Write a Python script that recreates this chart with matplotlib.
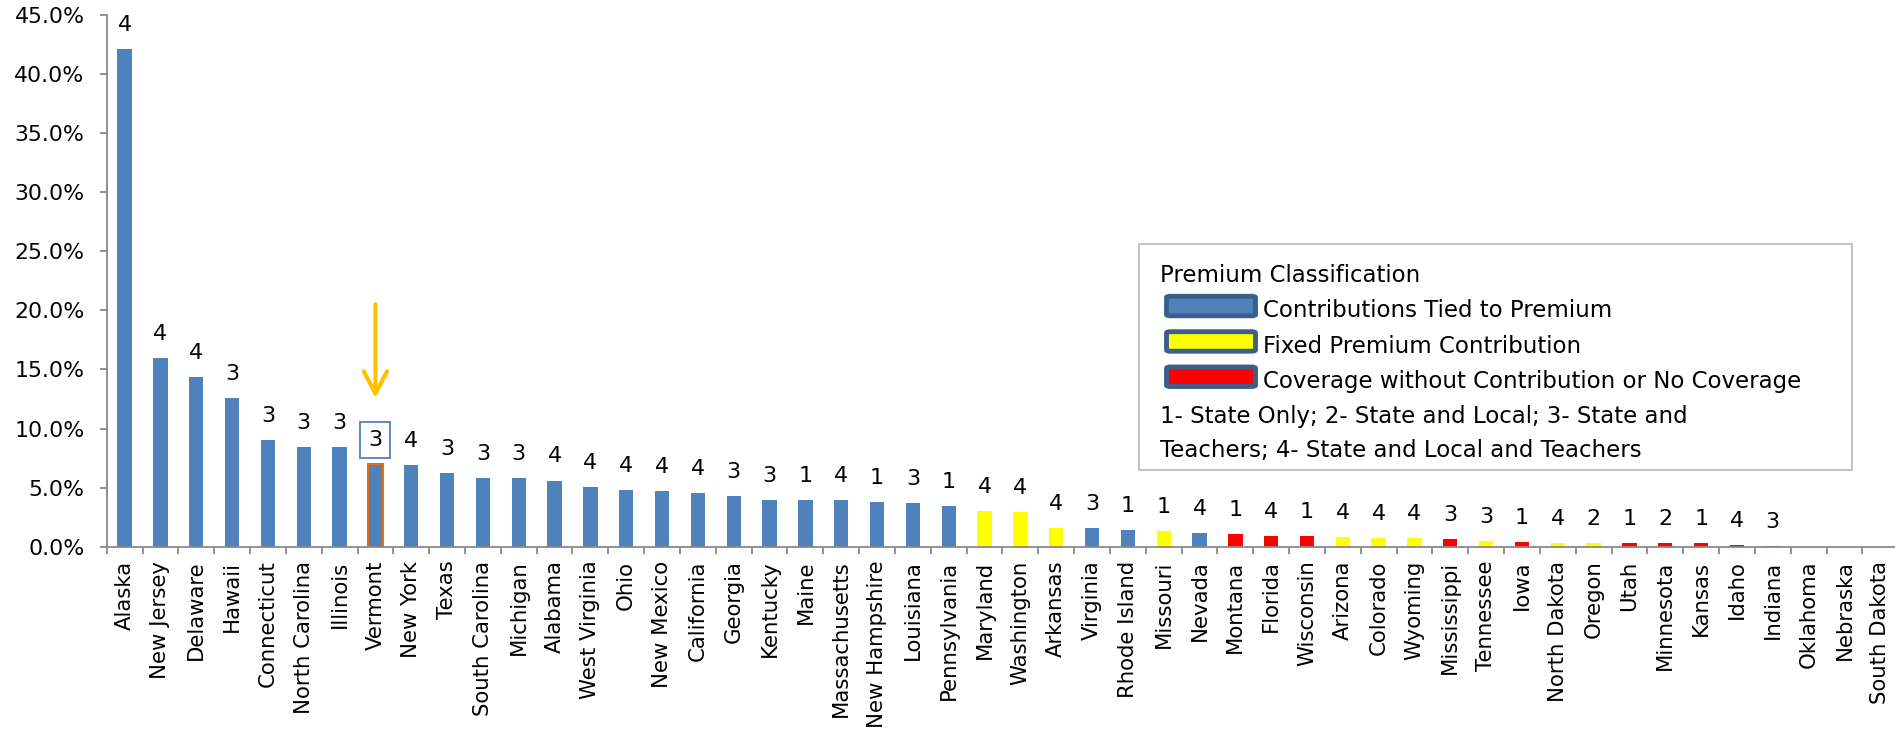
import numpy as np
import matplotlib
matplotlib.use("Agg")
import matplotlib.pyplot as plt
from matplotlib.patches import Rectangle, FancyBboxPatch
import matplotlib.transforms as mtransforms

# share of premium (%) per state, sorted high to low
states = ["Alaska", "New Jersey", "Delaware", "Hawaii", "Connecticut", "North Carolina",
          "Illinois", "Vermont", "New York", "Texas", "South Carolina", "Michigan", "Alabama",
          "West Virginia", "Ohio", "New Mexico", "California", "Georgia", "Kentucky", "Maine",
          "Massachusetts", "New Hampshire", "Louisiana", "Pennsylvania", "Maryland",
          "Washington", "Arkansas", "Virginia", "Rhode Island", "Missouri", "Nevada",
          "Montana", "Florida", "Wisconsin", "Arizona", "Colorado", "Wyoming", "Mississippi",
          "Tennessee", "Iowa", "North Dakota", "Oregon", "Utah", "Minnesota", "Kansas",
          "Idaho", "Indiana", "Oklahoma", "Nebraska", "South Dakota"]
share = [42.1, 15.95, 14.35, 12.6, 9.05, 8.4, 8.4, 7.0, 6.9, 6.2, 5.85, 5.85, 5.6,
         5.05, 4.8, 4.72, 4.55, 4.3, 3.97, 3.92, 3.92, 3.8, 3.69, 3.47, 3.05,
         2.96, 1.62, 1.59, 1.45, 1.36, 1.16, 1.11, 0.94, 0.94, 0.85, 0.77, 0.70, 0.68,
         0.51, 0.42, 0.34, 0.34, 0.34, 0.34, 0.34, 0.17, 0.08, 0.0, 0.0, 0.0]
# 1 state only, 2 state+local, 3 state+teachers, 4 state+local+teachers
coverage = [4, 4, 4, 3, 3, 3, 3, 3, 4, 3, 3, 3, 4, 4, 4, 4, 4, 3, 3, 1, 4, 1, 3, 1, 4,
            4, 4, 3, 1, 1, 4, 1, 4, 1, 4, 4, 4, 3, 3, 1, 4, 2, 1, 2, 1, 4, 3,
            None, None, None]
classification = ["tied"] * 24 + ["fixed", "fixed", "fixed", "tied", "tied", "fixed", "tied",
                  "none", "none", "none", "fixed", "fixed", "fixed", "none", "fixed", "none",
                  "fixed", "fixed", "none", "none", "none", "none", "none", "none", "none", "none"]
highlight = "Vermont"

class_colors = {"tied": "#4F81BD", "fixed": "#FFFF00", "none": "#FF0000"}
class_names = {"tied": "Contributions Tied to Premium",
               "fixed": "Fixed Premium Contribution",
               "none": "Coverage without Contribution or No Coverage"}
legend_title = "Premium Classification"
legend_note = ["1- State Only; 2- State and Local; 3- State and",
               "Teachers; 4- State and Local and Teachers"]

W, H = 1895, 732
AXIS_GRAY = "#898989"
plt.rcParams["font.family"] = ["DejaVu Sans"]

fig = plt.figure(figsize=(W / 100, H / 100), dpi=100)
ax = fig.add_axes([106.7 / W, (H - 546.7) / H, 1791.5 / W, 531.7 / H])


def fx(x):
    return x / W


def fy(y):
    return 1 - y / H


x = np.arange(len(states))
bars = ax.bar(x, share, width=0.4, color=[class_colors[c] for c in classification],
              edgecolor="none", zorder=2)
hi = states.index(highlight)
bars[hi].set_edgecolor("#EE6A10")
bars[hi].set_linewidth(1.5)

ax.set_xlim(-0.5, len(states) - 0.5)
ax.set_ylim(0, 45)
ax.set_yticks(np.arange(0, 46, 5))
ax.yaxis.set_major_formatter(matplotlib.ticker.FuncFormatter(lambda v, p: f"{v:.1f}%"))

ax.set_xticks(x)
ax.set_xticklabels(states, rotation=90, fontsize=15.3)
ax.set_xticks(np.arange(-0.5, len(states)), minor=True)
ax.tick_params(axis="x", which="major", length=0, pad=10)
ax.tick_params(axis="x", which="minor", length=5, width=1.3, color=AXIS_GRAY, direction="out")
ax.tick_params(axis="y", length=5, width=1.3, color=AXIS_GRAY, labelsize=15.8, pad=11)

for s in ["top", "right"]:
    ax.spines[s].set_visible(False)
for s in ["left", "bottom"]:
    ax.spines[s].set_color(AXIS_GRAY)
    ax.spines[s].set_linewidth(1.3)

# coverage code over each bar
for i, (v, c) in enumerate(zip(share, coverage)):
    if c is None:
        continue
    kw = {}
    if i == hi:
        kw["bbox"] = dict(boxstyle="square,pad=0.36", fc="white", ec="#4F81BD", lw=1.3)
    ax.annotate(str(c), (i, v), xytext=(0, 13), textcoords="offset points",
                ha="center", va="baseline", fontsize=16, **kw)

# arrow pointing at the highlighted state
tip = mtransforms.offset_copy(ax.transData, fig=fig, x=0, y=47.5, units="points")
ax.annotate("", xy=(hi, share[hi]), xycoords=tip, xytext=(0, 67.5), textcoords="offset points",
            arrowprops=dict(arrowstyle="->,head_length=0.8,head_width=0.42", color="#FFC000",
                            lw=3, mutation_scale=20, shrinkA=0, shrinkB=0))

# legend box
fig.add_artist(Rectangle((fx(1139), fy(470)), fx(1852 - 1139), (470 - 244) / H,
                         transform=fig.transFigure, fc="white", ec="#C4C4C4", lw=1.5))
fig.text(fx(1160), fy(281.7), legend_title, fontsize=16.5, va="baseline")
row_base = [317.3, 352.7, 388.0]
for key, yb in zip(["tied", "fixed", "none"], row_base):
    top = yb - 21
    fig.add_artist(FancyBboxPatch((fx(1166.5), fy(top + 19.5)), fx(89), 19.5 / H,
                                  boxstyle="round,pad=0,rounding_size=0.002",
                                  transform=fig.transFigure, fc=class_colors[key],
                                  ec="#3A5F8B", lw=3.5))
    fig.text(fx(1263), fy(yb), class_names[key], fontsize=16.5, va="baseline")
for line, yb in zip(legend_note, [423.3, 456.5]):
    fig.text(fx(1160), fy(yb), line, fontsize=16.5, va="baseline")

fig.savefig("out.png", dpi=100)
